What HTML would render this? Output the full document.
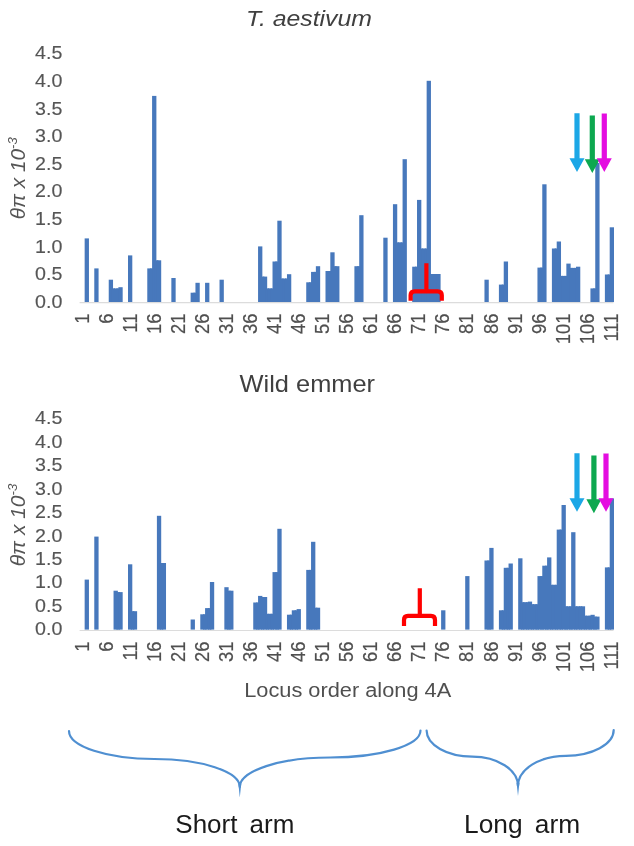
<!DOCTYPE html>
<html lang="en"><head><meta charset="utf-8"><title>Nucleotide diversity along 4A</title>
<style>html,body{margin:0;padding:0;background:#fff}svg{display:block}</style></head>
<body>
<svg width="634" height="846" viewBox="0 0 634 846" font-family="'Liberation Sans', sans-serif">
<rect width="634" height="846" fill="#fff"/>
<defs><filter id="soft" x="0" y="0" width="634" height="846" filterUnits="userSpaceOnUse"><feGaussianBlur stdDeviation="0.55"/></filter></defs>
<g filter="url(#soft)">
<text x="246" y="26.3" font-size="22.8" font-style="italic" fill="#404040" textLength="126" lengthAdjust="spacingAndGlyphs">T. aestivum</text>
<text x="239.6" y="391.5" font-size="23.4" fill="#404040" textLength="135.5" lengthAdjust="spacingAndGlyphs">Wild emmer</text>
<path d="M79.6 302.7H613.5M79.6 630.5H613.5" stroke="#dcdcdc" stroke-width="1.2" fill="none"/>
<g font-size="19.2" fill="#555" stroke="#555" stroke-width="0.15"><text x="62.4" y="307.9" text-anchor="end" textLength="27.3" lengthAdjust="spacingAndGlyphs">0.0</text><text x="62.4" y="280.3" text-anchor="end" textLength="27.3" lengthAdjust="spacingAndGlyphs">0.5</text><text x="62.4" y="252.6" text-anchor="end" textLength="27.3" lengthAdjust="spacingAndGlyphs">1.0</text><text x="62.4" y="225.0" text-anchor="end" textLength="27.3" lengthAdjust="spacingAndGlyphs">1.5</text><text x="62.4" y="197.4" text-anchor="end" textLength="27.3" lengthAdjust="spacingAndGlyphs">2.0</text><text x="62.4" y="169.7" text-anchor="end" textLength="27.3" lengthAdjust="spacingAndGlyphs">2.5</text><text x="62.4" y="142.1" text-anchor="end" textLength="27.3" lengthAdjust="spacingAndGlyphs">3.0</text><text x="62.4" y="114.5" text-anchor="end" textLength="27.3" lengthAdjust="spacingAndGlyphs">3.5</text><text x="62.4" y="86.8" text-anchor="end" textLength="27.3" lengthAdjust="spacingAndGlyphs">4.0</text><text x="62.4" y="59.2" text-anchor="end" textLength="27.3" lengthAdjust="spacingAndGlyphs">4.5</text></g>
<g font-size="19.2" fill="#555" stroke="#555" stroke-width="0.15"><text x="62.4" y="635.4" text-anchor="end" textLength="27.3" lengthAdjust="spacingAndGlyphs">0.0</text><text x="62.4" y="611.9" text-anchor="end" textLength="27.3" lengthAdjust="spacingAndGlyphs">0.5</text><text x="62.4" y="588.4" text-anchor="end" textLength="27.3" lengthAdjust="spacingAndGlyphs">1.0</text><text x="62.4" y="565.0" text-anchor="end" textLength="27.3" lengthAdjust="spacingAndGlyphs">1.5</text><text x="62.4" y="541.5" text-anchor="end" textLength="27.3" lengthAdjust="spacingAndGlyphs">2.0</text><text x="62.4" y="518.0" text-anchor="end" textLength="27.3" lengthAdjust="spacingAndGlyphs">2.5</text><text x="62.4" y="494.5" text-anchor="end" textLength="27.3" lengthAdjust="spacingAndGlyphs">3.0</text><text x="62.4" y="471.1" text-anchor="end" textLength="27.3" lengthAdjust="spacingAndGlyphs">3.5</text><text x="62.4" y="447.6" text-anchor="end" textLength="27.3" lengthAdjust="spacingAndGlyphs">4.0</text><text x="62.4" y="424.1" text-anchor="end" textLength="27.3" lengthAdjust="spacingAndGlyphs">4.5</text></g>
<text transform="translate(24.6,219.3) rotate(-90)" font-size="21" font-style="italic" fill="#555" textLength="82" lengthAdjust="spacingAndGlyphs">θπ x 10<tspan font-size="13.2" dy="-7.5">-3</tspan></text>
<text transform="translate(24.6,566.3) rotate(-90)" font-size="21" font-style="italic" fill="#555" textLength="82.5" lengthAdjust="spacingAndGlyphs">θπ x 10<tspan font-size="13.2" dy="-7.5">-3</tspan></text>
<g fill="#4778bc"><rect x="84.65" y="238.4" width="4.3" height="63.6"/><rect x="94.28" y="268.4" width="4.3" height="33.6"/><rect x="108.73" y="279.7" width="4.3" height="22.3"/><rect x="111.53" y="288.4" width="3.52" height="13.6"/><rect x="113.55" y="288.4" width="4.3" height="13.6"/><rect x="116.35" y="288.4" width="3.52" height="13.6"/><rect x="118.37" y="287.2" width="4.3" height="14.8"/><rect x="128.00" y="255.4" width="4.3" height="46.6"/><rect x="147.27" y="268.4" width="4.3" height="33.6"/><rect x="150.07" y="268.4" width="3.52" height="33.6"/><rect x="152.09" y="95.9" width="4.3" height="206.1"/><rect x="154.89" y="260.3" width="3.52" height="41.7"/><rect x="156.90" y="260.3" width="4.3" height="41.7"/><rect x="171.35" y="278.0" width="4.3" height="24.0"/><rect x="190.62" y="292.7" width="4.3" height="9.3"/><rect x="193.42" y="292.7" width="3.52" height="9.3"/><rect x="195.44" y="282.8" width="4.3" height="19.2"/><rect x="205.07" y="282.8" width="4.3" height="19.2"/><rect x="219.52" y="279.7" width="4.3" height="22.3"/><rect x="258.06" y="246.4" width="4.3" height="55.6"/><rect x="260.86" y="276.6" width="3.52" height="25.4"/><rect x="262.88" y="276.6" width="4.3" height="25.4"/><rect x="265.68" y="288.4" width="3.52" height="13.6"/><rect x="267.69" y="288.4" width="4.3" height="13.6"/><rect x="270.49" y="288.4" width="3.52" height="13.6"/><rect x="272.51" y="261.5" width="4.3" height="40.5"/><rect x="275.31" y="261.5" width="3.52" height="40.5"/><rect x="277.33" y="220.7" width="4.3" height="81.3"/><rect x="280.13" y="278.5" width="3.52" height="23.5"/><rect x="282.14" y="278.5" width="4.3" height="23.5"/><rect x="284.94" y="278.5" width="3.52" height="23.5"/><rect x="286.96" y="274.2" width="4.3" height="27.8"/><rect x="306.23" y="282.3" width="4.3" height="19.7"/><rect x="309.03" y="282.3" width="3.52" height="19.7"/><rect x="311.05" y="271.9" width="4.3" height="30.1"/><rect x="313.85" y="271.9" width="3.52" height="30.1"/><rect x="315.86" y="266.2" width="4.3" height="35.8"/><rect x="325.50" y="271.0" width="4.3" height="31.0"/><rect x="328.30" y="271.0" width="3.52" height="31.0"/><rect x="330.31" y="252.3" width="4.3" height="49.7"/><rect x="333.11" y="266.2" width="3.52" height="35.8"/><rect x="335.13" y="266.2" width="4.3" height="35.8"/><rect x="354.40" y="266.2" width="4.3" height="35.8"/><rect x="357.20" y="266.2" width="3.52" height="35.8"/><rect x="359.22" y="215.2" width="4.3" height="86.8"/><rect x="383.30" y="237.7" width="4.3" height="64.3"/><rect x="392.94" y="204.2" width="4.3" height="97.8"/><rect x="395.74" y="242.4" width="3.52" height="59.6"/><rect x="397.75" y="242.4" width="4.3" height="59.6"/><rect x="400.55" y="242.4" width="3.52" height="59.6"/><rect x="402.57" y="159.2" width="4.3" height="142.8"/><rect x="412.20" y="266.7" width="4.3" height="35.3"/><rect x="415.00" y="266.7" width="3.52" height="35.3"/><rect x="417.02" y="199.9" width="4.3" height="102.1"/><rect x="419.82" y="248.5" width="3.52" height="53.5"/><rect x="421.84" y="248.5" width="4.3" height="53.5"/><rect x="424.64" y="248.5" width="3.52" height="53.5"/><rect x="426.65" y="80.8" width="4.3" height="221.2"/><rect x="429.45" y="274.0" width="3.52" height="28.0"/><rect x="431.47" y="274.0" width="4.3" height="28.0"/><rect x="434.27" y="274.0" width="3.52" height="28.0"/><rect x="436.29" y="274.0" width="4.3" height="28.0"/><rect x="484.46" y="279.7" width="4.3" height="22.3"/><rect x="498.91" y="284.6" width="4.3" height="17.4"/><rect x="501.71" y="284.6" width="3.52" height="17.4"/><rect x="503.73" y="261.5" width="4.3" height="40.5"/><rect x="537.45" y="267.6" width="4.3" height="34.4"/><rect x="540.25" y="267.6" width="3.52" height="34.4"/><rect x="542.26" y="184.3" width="4.3" height="117.7"/><rect x="551.90" y="248.5" width="4.3" height="53.5"/><rect x="554.70" y="248.5" width="3.52" height="53.5"/><rect x="556.71" y="241.5" width="4.3" height="60.5"/><rect x="559.51" y="275.9" width="3.52" height="26.1"/><rect x="561.53" y="275.9" width="4.3" height="26.1"/><rect x="564.33" y="275.9" width="3.52" height="26.1"/><rect x="566.35" y="263.6" width="4.3" height="38.4"/><rect x="569.15" y="267.9" width="3.52" height="34.1"/><rect x="571.16" y="267.9" width="4.3" height="34.1"/><rect x="573.96" y="267.9" width="3.52" height="34.1"/><rect x="575.98" y="266.7" width="4.3" height="35.3"/><rect x="590.43" y="288.4" width="4.3" height="13.6"/><rect x="593.23" y="288.4" width="3.52" height="13.6"/><rect x="595.25" y="163.0" width="4.3" height="139.0"/><rect x="604.88" y="274.5" width="4.3" height="27.5"/><rect x="607.68" y="274.5" width="3.52" height="27.5"/><rect x="609.70" y="227.3" width="4.3" height="74.7"/></g>
<g fill="#4778bc"><rect x="84.65" y="579.6" width="4.3" height="50.0"/><rect x="94.28" y="536.6" width="4.3" height="93.0"/><rect x="113.55" y="590.7" width="4.3" height="38.9"/><rect x="116.35" y="592.1" width="3.52" height="37.5"/><rect x="118.37" y="592.1" width="4.3" height="37.5"/><rect x="128.00" y="564.3" width="4.3" height="65.3"/><rect x="130.80" y="611.2" width="3.52" height="18.4"/><rect x="132.82" y="611.2" width="4.3" height="18.4"/><rect x="156.90" y="515.8" width="4.3" height="113.8"/><rect x="159.70" y="563.0" width="3.52" height="66.6"/><rect x="161.72" y="563.0" width="4.3" height="66.6"/><rect x="190.62" y="619.5" width="4.3" height="10.1"/><rect x="200.26" y="614.3" width="4.3" height="15.3"/><rect x="203.06" y="614.3" width="3.52" height="15.3"/><rect x="205.07" y="608.1" width="4.3" height="21.5"/><rect x="207.87" y="608.1" width="3.52" height="21.5"/><rect x="209.89" y="582.0" width="4.3" height="47.6"/><rect x="224.34" y="587.2" width="4.3" height="42.4"/><rect x="227.14" y="590.7" width="3.52" height="38.9"/><rect x="229.16" y="590.7" width="4.3" height="38.9"/><rect x="253.24" y="602.5" width="4.3" height="27.1"/><rect x="256.04" y="602.5" width="3.52" height="27.1"/><rect x="258.06" y="595.9" width="4.3" height="33.7"/><rect x="260.86" y="597.0" width="3.52" height="32.6"/><rect x="262.88" y="597.0" width="4.3" height="32.6"/><rect x="265.68" y="613.8" width="3.52" height="15.8"/><rect x="267.69" y="613.8" width="4.3" height="15.8"/><rect x="270.49" y="613.8" width="3.52" height="15.8"/><rect x="272.51" y="572.1" width="4.3" height="57.5"/><rect x="275.31" y="572.1" width="3.52" height="57.5"/><rect x="277.33" y="528.8" width="4.3" height="100.8"/><rect x="286.96" y="614.7" width="4.3" height="14.9"/><rect x="289.76" y="614.7" width="3.52" height="14.9"/><rect x="291.78" y="610.3" width="4.3" height="19.3"/><rect x="294.58" y="610.3" width="3.52" height="19.3"/><rect x="296.60" y="609.1" width="4.3" height="20.5"/><rect x="306.23" y="569.9" width="4.3" height="59.7"/><rect x="309.03" y="569.9" width="3.52" height="59.7"/><rect x="311.05" y="541.8" width="4.3" height="87.8"/><rect x="313.85" y="607.7" width="3.52" height="21.9"/><rect x="315.86" y="607.7" width="4.3" height="21.9"/><rect x="441.11" y="610.3" width="4.3" height="19.3"/><rect x="465.19" y="576.1" width="4.3" height="53.5"/><rect x="484.46" y="560.5" width="4.3" height="69.1"/><rect x="487.26" y="560.5" width="3.52" height="69.1"/><rect x="489.28" y="547.9" width="4.3" height="81.7"/><rect x="498.91" y="610.3" width="4.3" height="19.3"/><rect x="501.71" y="610.3" width="3.52" height="19.3"/><rect x="503.73" y="567.8" width="4.3" height="61.8"/><rect x="506.53" y="567.8" width="3.52" height="61.8"/><rect x="508.54" y="563.5" width="4.3" height="66.1"/><rect x="518.18" y="558.3" width="4.3" height="71.3"/><rect x="520.98" y="602.2" width="3.52" height="27.4"/><rect x="522.99" y="602.2" width="4.3" height="27.4"/><rect x="525.79" y="602.2" width="3.52" height="27.4"/><rect x="527.81" y="601.6" width="4.3" height="28.0"/><rect x="530.61" y="604.2" width="3.52" height="25.4"/><rect x="532.63" y="604.2" width="4.3" height="25.4"/><rect x="535.43" y="604.2" width="3.52" height="25.4"/><rect x="537.45" y="576.1" width="4.3" height="53.5"/><rect x="540.25" y="576.1" width="3.52" height="53.5"/><rect x="542.26" y="565.7" width="4.3" height="63.9"/><rect x="545.06" y="565.7" width="3.52" height="63.9"/><rect x="547.08" y="557.4" width="4.3" height="72.2"/><rect x="549.88" y="584.8" width="3.52" height="44.8"/><rect x="551.90" y="584.8" width="4.3" height="44.8"/><rect x="554.70" y="584.8" width="3.52" height="44.8"/><rect x="556.71" y="529.6" width="4.3" height="100.0"/><rect x="559.51" y="529.6" width="3.52" height="100.0"/><rect x="561.53" y="505.0" width="4.3" height="124.6"/><rect x="564.33" y="606.3" width="3.52" height="23.3"/><rect x="566.35" y="606.3" width="4.3" height="23.3"/><rect x="569.15" y="606.3" width="3.52" height="23.3"/><rect x="571.16" y="532.2" width="4.3" height="97.4"/><rect x="573.96" y="606.3" width="3.52" height="23.3"/><rect x="575.98" y="606.3" width="4.3" height="23.3"/><rect x="578.78" y="606.3" width="3.52" height="23.3"/><rect x="580.80" y="606.3" width="4.3" height="23.3"/><rect x="583.60" y="615.7" width="3.52" height="13.9"/><rect x="585.62" y="615.7" width="4.3" height="13.9"/><rect x="588.41" y="615.7" width="3.52" height="13.9"/><rect x="590.43" y="614.8" width="4.3" height="14.8"/><rect x="593.23" y="616.6" width="3.52" height="13.0"/><rect x="595.25" y="616.6" width="4.3" height="13.0"/><rect x="604.88" y="567.4" width="4.3" height="62.2"/><rect x="607.68" y="567.4" width="3.52" height="62.2"/><rect x="609.70" y="498.4" width="4.3" height="131.2"/></g>
<g font-size="18.4" fill="#505050" stroke="#505050" stroke-width="0.2"><text transform="translate(89.00,313.6) scale(1.09,1) rotate(-90)" text-anchor="end">1</text><text transform="translate(113.03,313.6) scale(1.09,1) rotate(-90)" text-anchor="end">6</text><text transform="translate(137.06,313.6) scale(1.09,1) rotate(-90)" text-anchor="end">11</text><text transform="translate(161.09,313.6) scale(1.09,1) rotate(-90)" text-anchor="end">16</text><text transform="translate(185.12,313.6) scale(1.09,1) rotate(-90)" text-anchor="end">21</text><text transform="translate(209.15,313.6) scale(1.09,1) rotate(-90)" text-anchor="end">26</text><text transform="translate(233.18,313.6) scale(1.09,1) rotate(-90)" text-anchor="end">31</text><text transform="translate(257.21,313.6) scale(1.09,1) rotate(-90)" text-anchor="end">36</text><text transform="translate(281.24,313.6) scale(1.09,1) rotate(-90)" text-anchor="end">41</text><text transform="translate(305.27,313.6) scale(1.09,1) rotate(-90)" text-anchor="end">46</text><text transform="translate(329.30,313.6) scale(1.09,1) rotate(-90)" text-anchor="end">51</text><text transform="translate(353.33,313.6) scale(1.09,1) rotate(-90)" text-anchor="end">56</text><text transform="translate(377.36,313.6) scale(1.09,1) rotate(-90)" text-anchor="end">61</text><text transform="translate(401.39,313.6) scale(1.09,1) rotate(-90)" text-anchor="end">66</text><text transform="translate(425.42,313.6) scale(1.09,1) rotate(-90)" text-anchor="end">71</text><text transform="translate(449.45,313.6) scale(1.09,1) rotate(-90)" text-anchor="end">76</text><text transform="translate(473.48,313.6) scale(1.09,1) rotate(-90)" text-anchor="end">81</text><text transform="translate(497.51,313.6) scale(1.09,1) rotate(-90)" text-anchor="end">86</text><text transform="translate(521.54,313.6) scale(1.09,1) rotate(-90)" text-anchor="end">91</text><text transform="translate(545.57,313.6) scale(1.09,1) rotate(-90)" text-anchor="end">96</text><text transform="translate(569.60,313.6) scale(1.09,1) rotate(-90)" text-anchor="end">101</text><text transform="translate(593.63,313.6) scale(1.09,1) rotate(-90)" text-anchor="end">106</text><text transform="translate(617.66,313.6) scale(1.09,1) rotate(-90)" text-anchor="end">111</text></g>
<g font-size="18.4" fill="#505050" stroke="#505050" stroke-width="0.2"><text transform="translate(89.00,641.5) scale(1.09,1) rotate(-90)" text-anchor="end">1</text><text transform="translate(113.03,641.5) scale(1.09,1) rotate(-90)" text-anchor="end">6</text><text transform="translate(137.06,641.5) scale(1.09,1) rotate(-90)" text-anchor="end">11</text><text transform="translate(161.09,641.5) scale(1.09,1) rotate(-90)" text-anchor="end">16</text><text transform="translate(185.12,641.5) scale(1.09,1) rotate(-90)" text-anchor="end">21</text><text transform="translate(209.15,641.5) scale(1.09,1) rotate(-90)" text-anchor="end">26</text><text transform="translate(233.18,641.5) scale(1.09,1) rotate(-90)" text-anchor="end">31</text><text transform="translate(257.21,641.5) scale(1.09,1) rotate(-90)" text-anchor="end">36</text><text transform="translate(281.24,641.5) scale(1.09,1) rotate(-90)" text-anchor="end">41</text><text transform="translate(305.27,641.5) scale(1.09,1) rotate(-90)" text-anchor="end">46</text><text transform="translate(329.30,641.5) scale(1.09,1) rotate(-90)" text-anchor="end">51</text><text transform="translate(353.33,641.5) scale(1.09,1) rotate(-90)" text-anchor="end">56</text><text transform="translate(377.36,641.5) scale(1.09,1) rotate(-90)" text-anchor="end">61</text><text transform="translate(401.39,641.5) scale(1.09,1) rotate(-90)" text-anchor="end">66</text><text transform="translate(425.42,641.5) scale(1.09,1) rotate(-90)" text-anchor="end">71</text><text transform="translate(449.45,641.5) scale(1.09,1) rotate(-90)" text-anchor="end">76</text><text transform="translate(473.48,641.5) scale(1.09,1) rotate(-90)" text-anchor="end">81</text><text transform="translate(497.51,641.5) scale(1.09,1) rotate(-90)" text-anchor="end">86</text><text transform="translate(521.54,641.5) scale(1.09,1) rotate(-90)" text-anchor="end">91</text><text transform="translate(545.57,641.5) scale(1.09,1) rotate(-90)" text-anchor="end">96</text><text transform="translate(569.60,641.5) scale(1.09,1) rotate(-90)" text-anchor="end">101</text><text transform="translate(593.63,641.5) scale(1.09,1) rotate(-90)" text-anchor="end">106</text><text transform="translate(617.66,641.5) scale(1.09,1) rotate(-90)" text-anchor="end">111</text></g>
<path fill="none" stroke="#ff0000" stroke-width="4.2" stroke-linecap="butt" stroke-linejoin="round" d="M410.6 300.8V295.3Q410.6 291.3 414.6 291.3H437.8Q441.8 291.3 441.8 295.3V300.8M426.4 291.3V263.2"/>
<path fill="none" stroke="#ff0000" stroke-width="4.2" stroke-linecap="butt" stroke-linejoin="round" d="M404.0 626.0V619.9Q404.0 615.9 408.0 615.9H431.0Q435.0 615.9 435.0 619.9V626.0M419.8 615.9V588.3"/>
<path fill="#1ea7e6" d="M574.4 113.2H579.6V158.3H584.5L577.0 171.9L569.5 158.3H574.4Z"/>
<path fill="#0aa84f" d="M589.7 115.4H594.9V159.3H599.8L592.3 172.9L584.8 159.3H589.7Z"/>
<path fill="#e411e0" d="M601.7 113.6H606.9V158.3H611.8L604.3 171.9L596.8 158.3H601.7Z"/>
<path fill="#1ea7e6" d="M574.4 453.2H579.6V498.3H584.5L577.0 511.7L569.5 498.3H574.4Z"/>
<path fill="#0aa84f" d="M591.3 455.4H596.5V499.3H601.4L593.9 513.2L586.4 499.3H591.3Z"/>
<path fill="#e411e0" d="M603.4 453.6H608.6V498.3H613.5L606.0 511.7L598.5 498.3H603.4Z"/>
<text x="244.2" y="696.6" font-size="20" fill="#505050" textLength="207" lengthAdjust="spacingAndGlyphs">Locus order along 4A</text>
<path fill="none" stroke="#4f8fd1" stroke-width="2.2" stroke-linecap="round" stroke-linejoin="round" d="M69 731A85.4 28 0 0 0 154.4 759A85.4 28 0 0 1 239.8 787A90.35 29.5 0 0 1 330.15 757.5A90.35 27 0 0 0 420.5 730.5"/>
<path fill="none" stroke="#4f8fd1" stroke-width="2.2" stroke-linecap="round" stroke-linejoin="round" d="M426.6 730.6A45.7 26 0 0 0 472.3 756.6A45.7 29.4 0 0 1 518 786A47.85 30.2 0 0 1 565.85 755.8A47.85 25.8 0 0 0 613.7 730"/>
<path fill="#4f8fd1" d="M238.4 784L239.8 797.5L241.2 784ZM516.6 783L518 796L519.4 783Z"/>
</g>
<text x="175.3" y="833.2" font-size="26" fill="#1a1a1a" word-spacing="4.9">Short arm</text>
<text x="464" y="833.2" font-size="26.3" fill="#1a1a1a" word-spacing="5.0">Long arm</text>
</svg>
</body></html>
